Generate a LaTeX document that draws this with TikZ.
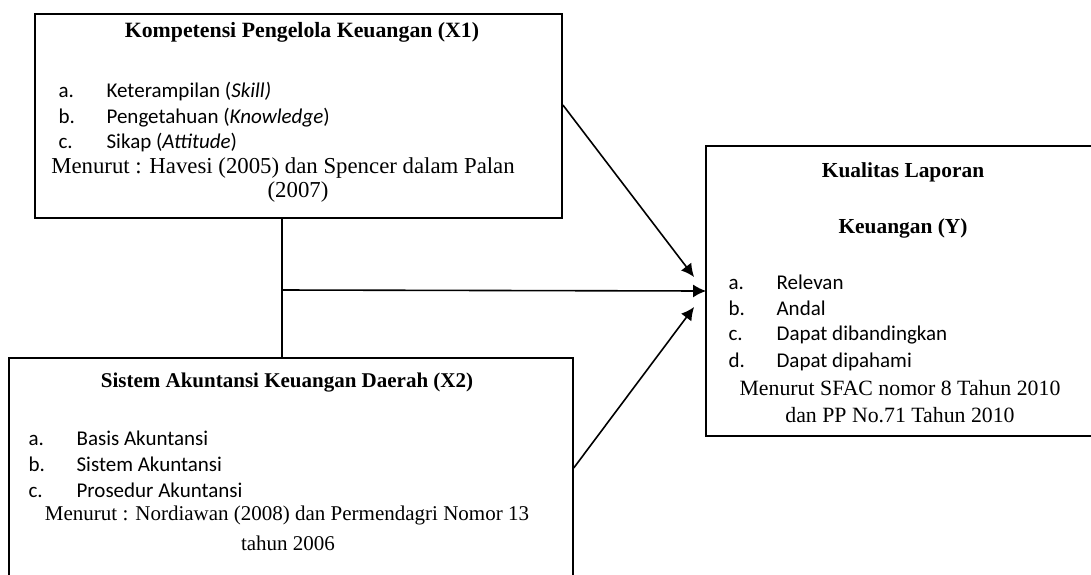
\documentclass[tikz,border=0pt]{standalone}
\usepackage{fontspec}
\setmainfont{Liberation Serif}
\newfontfamily\calibri{Carlito}
\usetikzlibrary{arrows.meta}
\usetikzlibrary{calc}
\usetikzlibrary{positioning}

\newcommand{\butir}[2]{\makebox[24pt][l]{#1}#2}

\begin{document}
\begin{tikzpicture}[x=0.5pt,y=-0.5pt,-,semithick]
	\tikzstyle{kotak}=[draw,line width=0.9pt,rectangle,inner sep=0pt]
	\tikzstyle{judul}=[font=\fontsize{10.7}{13}\selectfont\bfseries,inner sep=0pt]
	\tikzstyle{isi}=[font=\fontsize{10.9}{13}\selectfont,inner sep=0pt]
	\tikzstyle{item}=[font=\calibri\fontsize{10.5}{12}\selectfont,inner sep=0pt,anchor=west]
	\tikzstyle{panah}=[-{Latex[length=6.5pt,width=6.5pt]},line width=0.8pt]
	\useasboundingbox (0,0) rectangle (1091,574);
	\clip (0,0) rectangle (1091,574);

	% kotak variabel
	\node[kotak,minimum width=263.5pt,minimum height=102pt] (X1) at (298.5,116) {};
	\node[kotak,line width=0.7pt,minimum width=282pt,minimum height=117pt] (X2) at (291,475) {};
	\node[kotak,draw=none,minimum width=240pt,minimum height=144pt] (Y) at (947,291) {};
	\draw[line width=0.9pt] (Y.north east) -- (Y.north west) -- (Y.south west) -- (Y.south east);

	% X1
	\node[judul,font=\fontsize{10.9}{13}\selectfont\bfseries] (jX1) at (302,32) {Kompetensi Pengelola Keuangan (X1)};
	\foreach \y/\k/\t [count=\i] in {92/a./{Keterampilan (\textit{Skill)}},
			118/b./{Pengetahuan (\textit{Knowledge})},
			143/c./{Sikap (\textit{Attitude})}}{
		\node[item] (x1i\i) at (58,\y) {\butir{\k}{\t}};
	}
	\node[isi,font=\fontsize{11.4}{13}\selectfont] (sX1a) at (283,168) {Menurut : Havesi (2005) dan Spencer dalam Palan};
	\node[isi,font=\fontsize{11.4}{13}\selectfont] (sX1b) at (298,192) {(2007)};

	% X2
	\node[judul,font=\fontsize{10.5}{13}\selectfont\bfseries] (jX2) at (287,383) {Sistem Akuntansi Keuangan Daerah (X2)};
	\foreach \y/\k/\t [count=\i] in {438/a./{Basis Akuntansi},
			464/b./{Sistem Akuntansi},
			490/c./{Prosedur Akuntansi}}{
		\node[item] (x2i\i) at (28,\y) {\butir{\k}{\t}};
	}
	\node[isi,font=\fontsize{10.5}{13}\selectfont] (sX2a) at (287,515) {Menurut : Nordiawan (2008) dan Permendagri Nomor 13};
	\node[isi,font=\fontsize{10.5}{13}\selectfont] (sX2b) at (288,543) {tahun 2006};

	% Y
	\node[judul] (jYa) at (903,172) {Kualitas Laporan};
	\node[judul] (jYb) at (903,228) {Keuangan (Y)};
	\foreach \y/\k/\t [count=\i] in {282/a./{Relevan},
			308/b./{Andal},
			335/c./{Dapat dibandingkan},
			362/d./{Dapat dipahami}}{
		\node[item] (yi\i) at (728,\y) {\butir{\k}{\t}};
	}
	\node[isi] (sYa) at (900,388) {Menurut SFAC nomor 8 Tahun 2010};
	\node[isi] (sYb) at (900,415) {dan PP No.71 Tahun 2010};

	% hubungan
	\coordinate (simpang) at (282,290);
	\draw[line width=0.7pt] (simpang |- X1.south) -- (simpang |- X2.north);
	\draw[panah] (simpang) -- (Y.west);
	\draw[panah] ([yshift=5.5pt]X1.east) -- ([xshift=-6pt,yshift=7pt]Y.west);
	\draw[panah] ([yshift=3.5pt]X2.east) -- ([xshift=-6pt,yshift=-8pt]Y.west);
\end{tikzpicture}
\end{document}
